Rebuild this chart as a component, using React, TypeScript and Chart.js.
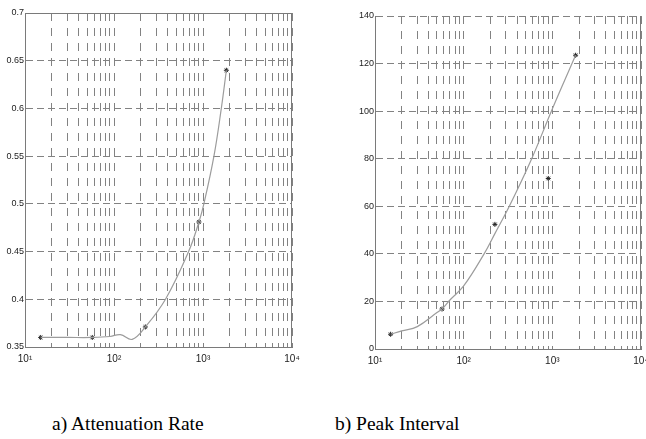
import React, { useEffect, useRef } from 'react';
import { Chart, registerables } from 'chart.js';
Chart.register(...registerables);

// log-axis grid positions and decade labels
const xTicks = [10, 20, 30, 40, 50, 60, 70, 80, 90, 100, 200, 300, 400, 500, 600, 700, 800, 900, 1000, 2000, 3000, 4000, 5000, 6000, 7000, 8000, 9000, 10000];
const xDecadeLabels: Record<number, string> = { 10: '10¹', 100: '10²', 1000: '10³', 10000: '10⁴' };

// a) Attenuation Rate
const rateCurveX = [15, 30, 57, 90, 118, 160, 225, 379, 689, 900, 1023, 1327, 1606, 1830];
const rateCurveY = [0.36, 0.36, 0.36, 0.361, 0.363, 0.358, 0.371, 0.4, 0.45, 0.481, 0.5, 0.55, 0.6, 0.64];
const rateMarkX = [15, 57, 225, 900, 1830];
const rateMarkY = [0.36, 0.36, 0.371, 0.481, 0.64];
const rateTicks = [0.35, 0.4, 0.45, 0.5, 0.55, 0.6, 0.65, 0.7];

// b) Peak Interval
const peakCurveX = [15, 20, 30, 50, 57, 70, 100, 170, 225, 327, 585, 975, 1830];
const peakCurveY = [6.2, 7.6, 9.4, 15.3, 16.8, 20.6, 26.5, 40, 48.5, 60, 80, 100, 123.5];
const peakMarkX = [15, 57, 225, 900, 1830];
const peakMarkY = [6.2, 16.8, 52.4, 71.7, 123.5];
const peakTicks = [0, 20, 40, 60, 80, 100, 120, 140];

const GRID = '#828282';
const AXIS = '#7a7a7a';
const TICK_FONT = { family: 'Liberation Sans', size: 9 };

const framePlugin = {
  id: 'frame',
  afterDraw(chart: any, _args: any, o: any) {
    const { ctx, chartArea } = chart;
    const { left, right, top, bottom } = chartArea;
    ctx.save();
    ctx.strokeStyle = AXIS;
    ctx.lineWidth = 1;
    ctx.setLineDash([]);
    ctx.beginPath();
    if (o.top) {
      ctx.moveTo(left, Math.round(top) + 0.5);
      ctx.lineTo(right, Math.round(top) + 0.5);
    }
    ctx.moveTo(Math.round(right) - 0.5, top);
    ctx.lineTo(Math.round(right) - 0.5, bottom);
    ctx.stroke();
    ctx.restore();
  },
};

function makeConfig(
  cx: number[], cy: number[], mx: number[], my: number[],
  yTicks: number[], yWidth: number, pad: any, xHeight: number, topSolid: boolean
): any {
  return {
    type: 'scatter',
    data: {
      datasets: [
        {
          data: cx.map((x, i) => ({ x, y: cy[i] })),
          showLine: true,
          tension: 0.4,
          borderColor: '#9c9c9c',
          borderWidth: 1.2,
          pointRadius: 0,
          fill: false,
        },
        {
          data: mx.map((x, i) => ({ x, y: my[i] })),
          showLine: false,
          pointStyle: 'star',
          pointRadius: 2.5,
          borderColor: '#222',
          backgroundColor: '#222',
          borderWidth: 1,
        },
      ],
    },
    options: {
      animation: false,
      responsive: false,
      maintainAspectRatio: false,
      layout: { padding: pad },
      plugins: {
        legend: { display: false },
        tooltip: { enabled: false },
        frame: { top: topSolid },
      },
      scales: {
        x: {
          type: 'logarithmic',
          min: 10,
          max: 10000,
          afterBuildTicks: (s: any) => {
            s.ticks = xTicks.map((v) => ({ value: v, major: !!xDecadeLabels[v] }));
          },
          afterFit: (s: any) => { s.height = xHeight; },
          grid: { color: GRID, lineWidth: 1, drawTicks: false },
          border: { display: true, color: AXIS, width: 1, dash: [8, 7] },
          ticks: {
            autoSkip: false,
            maxRotation: 0,
            padding: 6,
            color: '#222',
            font: { family: 'Liberation Sans', size: 10 },
            callback: (v: any) => xDecadeLabels[Number(v)] || '',
          },
        },
        y: {
          type: 'linear',
          min: yTicks[0],
          max: yTicks[yTicks.length - 1],
          afterBuildTicks: (s: any) => {
            s.ticks = yTicks.map((v) => ({ value: v }));
          },
          afterFit: (s: any) => { s.width = yWidth; },
          grid: { color: GRID, lineWidth: 1, drawTicks: false },
          border: { display: true, color: AXIS, width: 1, dash: [7, 4] },
          ticks: {
            padding: 1,
            color: '#222',
            font: TICK_FONT,
            callback: (v: any) => String(v),
          },
        },
      },
    },
    plugins: [framePlugin],
  };
}

function ChartCanvas(props: { config: any; left: number; width: number; height: number }) {
  const ref = useRef<HTMLCanvasElement | null>(null);
  useEffect(() => {
    if (!ref.current) return;
    const chart = new Chart(ref.current, props.config);
    return () => chart.destroy();
  }, []);
  return (
    <canvas
      ref={ref}
      width={props.width}
      height={props.height}
      style={{ position: 'absolute', left: props.left, top: 0, width: props.width, height: props.height }}
    />
  );
}

export default function App() {
  const cfgA = makeConfig(rateCurveX, rateCurveY, rateMarkX, rateMarkY, rateTicks, 25, { top: 13, left: 0, right: 28, bottom: 0 }, 33, true);
  const cfgB = makeConfig(peakCurveX, peakCurveY, peakMarkX, peakMarkY, peakTicks, 45, { top: 16, left: 0, right: 19, bottom: 0 }, 31, false);
  const caption: React.CSSProperties = {
    position: 'absolute',
    top: 413,
    fontFamily: '"Liberation Serif", "Times New Roman", serif',
    fontSize: 19.5,
    color: '#000',
    whiteSpace: 'nowrap',
  };
  return (
    <div style={{ position: 'absolute', left: 0, top: 0, width: 646, height: 439, overflow: 'hidden', background: '#fff' }}>
      <ChartCanvas config={cfgA} left={0} width={320} height={380} />
      <ChartCanvas config={cfgB} left={330} width={330} height={380} />
      <div style={{ ...caption, left: 52 }}>a) Attenuation Rate</div>
      <div style={{ ...caption, left: 335 }}>b) Peak Interval</div>
    </div>
  );
}
